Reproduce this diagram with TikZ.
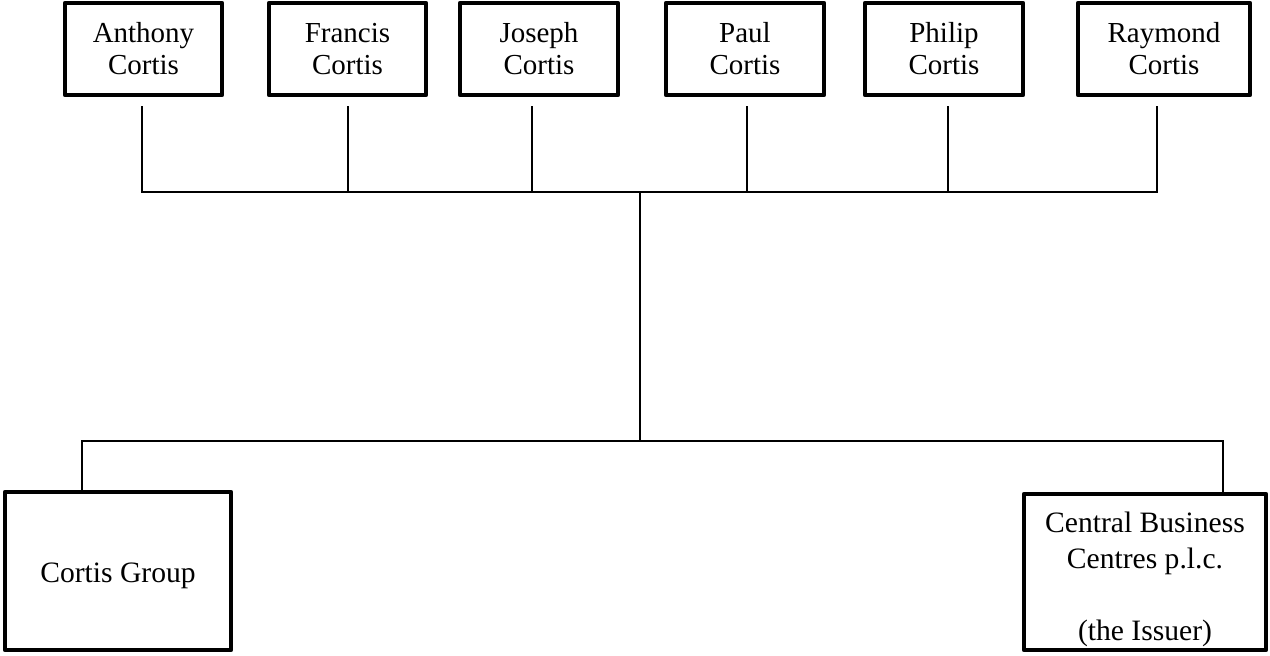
\documentclass[tikz,border=0pt]{standalone}
\usepackage{fontspec}
\setmainfont{Liberation Serif}
\usetikzlibrary{calc}
\tikzset{
  person/.style={draw, line width=2.2pt, line join=round, align=center, inner sep=0pt,
    minimum height=46pt, font=\fontsize{14.5}{16}\selectfont},
  entity/.style={draw, line width=2.2pt, line join=round, inner sep=0pt},
  entitytext/.style={align=center, inner sep=0pt, font=\fontsize{14.8}{18}\selectfont},
  link/.style={draw, line width=1pt}
}
\begin{document}
\begin{tikzpicture}[x=0.5pt, y=-0.5pt]
  \useasboundingbox (0,0) rectangle (1270,655);

  \coordinate (hub) at (640,192);
  \coordinate (split) at (640,441);

  \node[person, minimum width=78.5pt] (anthony) at (143.5,49) {Anthony\\Cortis};
  \node[person, minimum width=78.5pt] (francis) at (347.5,49) {Francis\\Cortis};
  \node[person, minimum width=79pt] (joseph) at (539,49) {Joseph\\Cortis};
  \node[person, minimum width=79pt] (paul) at (745,49) {Paul\\Cortis};
  \node[person, minimum width=79pt] (philip) at (944,49) {Philip\\Cortis};
  \node[person, minimum width=86pt] (raymond) at (1164,49) {Raymond\\Cortis};

  \node[entity, minimum width=113pt, minimum height=79pt] (group) at (118,571) {};
  \node[entitytext] (grouptext) at ([yshift=-2.5pt]group.center) {Cortis Group};
  \node[entity, minimum width=121pt, minimum height=78pt] (issuer) at (1145,572) {};
  \node[entitytext] (issuertext) at ([yshift=-3.5pt]issuer.center)
    {Central Business\\Centres p.l.c.\\[18pt](the Issuer)};

  \draw[link] ([xshift=-0.75pt,yshift=-4.5pt]anthony.south) |- (hub);
  \draw[link] ([yshift=-4.5pt]francis.south) |- (hub);
  \draw[link] ([xshift=-3.5pt,yshift=-4.5pt]joseph.south) |- (hub);
  \draw[link] ([xshift=1pt,yshift=-4.5pt]paul.south) |- (hub);
  \draw[link] ([xshift=2pt,yshift=-4.5pt]philip.south) |- (hub);
  \draw[link] ([xshift=-3.5pt,yshift=-4.5pt]raymond.south) |- (hub);

  \draw[link] (hub) -- (split);
  \draw[link] ([xshift=-18pt]group.north) |- (split);
  \draw[link] ([xshift=39pt]issuer.north) |- (split);
\end{tikzpicture}
\end{document}
